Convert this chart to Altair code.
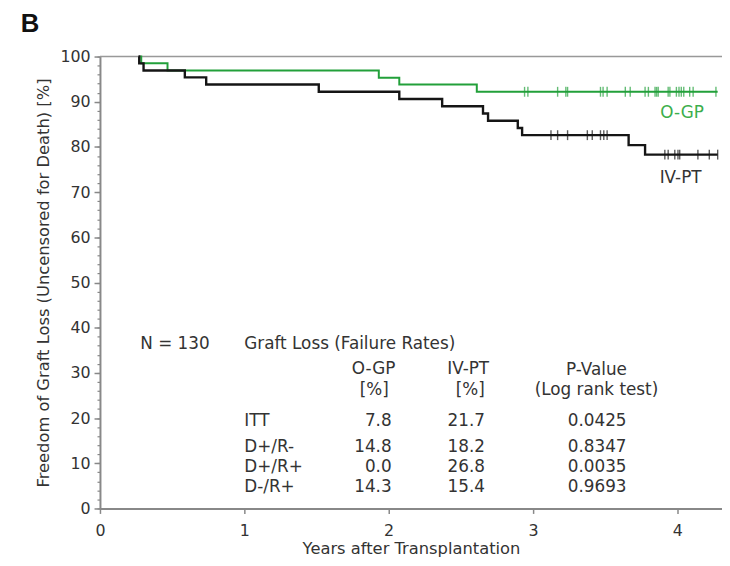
import altair as alt
import pandas as pd

# ---- Kaplan-Meier curves (years after transplantation, % free of graft loss)
ogp_time = [0.279, 0.286, 0.468, 1.932, 2.074, 2.611, 4.28]
ogp_surv = [100.0, 98.5, 96.9, 95.3, 93.8, 92.2, 92.2]
ivpt_time = [0.267, 0.272, 0.302, 0.588, 0.736, 1.516, 2.074, 2.371, 2.654,
             2.689, 2.895, 2.925, 3.663, 3.777, 4.28]
ivpt_surv = [100.0, 98.5, 96.9, 95.4, 93.8, 92.2, 90.6, 89.0, 87.4,
             85.8, 84.2, 82.6, 80.4, 78.3, 78.3]

# ---- censoring marks (years)
ogp_cens = [2.942, 2.965, 3.171, 3.228, 3.240, 3.468, 3.486, 3.514, 3.640,
            3.674, 3.777, 3.800, 3.846, 3.857, 3.868, 3.937, 3.949, 3.994,
            4.012, 4.028, 4.045, 4.086, 4.11, 4.268]
ivpt_cens = [3.125, 3.171, 3.240, 3.377, 3.411, 3.468, 3.491, 3.514,
             3.914, 3.937, 3.983, 4.005, 4.017, 4.143, 4.222, 4.280]

# ---- table
subgroups = ["ITT", "D+/R-", "D+/R+", "D-/R+"]
ogp_rate = ["7.8", "14.8", "0.0", "14.3"]
ivpt_rate = ["21.7", "18.2", "26.8", "15.4"]
p_values = ["0.0425", "0.8347", "0.0035", "0.9693"]

# axis ticks
y_major = list(range(0, 101, 10))
y_minor = list(range(0, 101, 2))
x_ticks = [0, 1, 2, 3, 4]

# layout constants (data units) for the annotation table
row_y = [19.3, 13.6, 9.2, 4.8]
GREEN = "#22a03a"
GREEN_TXT = "#3bae4c"
BLACK = "#151515"
TXT = "#333333"
FONT = "DejaVu Sans"


def level_at(times, survs, t):
    val = survs[0]
    for ti, si in zip(times, survs):
        if ti <= t:
            val = si
    return val


curves = pd.concat([
    pd.DataFrame({"t": ogp_time, "s": ogp_surv, "g": "O-GP"}),
    pd.DataFrame({"t": ivpt_time, "s": ivpt_surv, "g": "IV-PT"}),
])
cens = pd.concat([
    pd.DataFrame({"t": ogp_cens, "s": [level_at(ogp_time, ogp_surv, t) for t in ogp_cens], "g": "O-GP"}),
    pd.DataFrame({"t": ivpt_cens, "s": [level_at(ivpt_time, ivpt_surv, t) for t in ivpt_cens], "g": "IV-PT"}),
])

xscale = alt.Scale(domain=[0, 4.31], nice=False, zero=False)
yscale = alt.Scale(domain=[0, 100], nice=False)
cscale = alt.Scale(domain=["O-GP", "IV-PT"], range=[GREEN, BLACK])

xaxis = alt.Axis(values=x_ticks, format="d", tickSize=5, labelPadding=9, labelFlush=False,
                 labelFontSize=16, title="Years after Transplantation", titleFontSize=16.5,
                 titlePadding=3)
yaxis = alt.Axis(orient="left", values=y_major, format="d", tickSize=6,
                 labelPadding=4, labelOverlap=False, labelFlush=False, labelFontSize=16,
                 title="Freedom of Graft Loss (Uncensored for Death) [%]",
                 titleFontSize=16.5, titlePadding=9)
yaxis_minor = alt.Axis(orient="left", values=y_minor, labels=False, tickSize=3,
                       domain=False, title=None, tickWidth=1.2)


def X(field):
    return alt.X(field, scale=xscale, axis=xaxis)


frame = alt.Chart(pd.DataFrame({"v": [100]})).mark_rule(color="#999", strokeWidth=1.5).encode(
    y=alt.Y("v:Q", scale=yscale, axis=yaxis_minor)
)

lines_g = alt.Chart(curves[curves.g == "O-GP"]).mark_line(
    interpolate="step-after", strokeWidth=2, color=GREEN).encode(
    x=X("t:Q"), y=alt.Y("s:Q", scale=yscale, axis=yaxis))
lines_b = alt.Chart(curves[curves.g == "IV-PT"]).mark_line(
    interpolate="step-after", strokeWidth=2.4, color=BLACK).encode(
    x=X("t:Q"), y=alt.Y("s:Q", scale=yscale, axis=None))

ticks = alt.Chart(cens).mark_tick(orient="vertical", size=10, thickness=1.4).encode(
    x=X("t:Q"), y=alt.Y("s:Q", scale=yscale, axis=None),
    color=alt.Color("g:N", scale=cscale, legend=None)
)


def text_layer(df, align, color=TXT, size=17):
    return alt.Chart(df).mark_text(align=align, baseline="middle", font=FONT,
                                   fontSize=size, color=color).encode(
        x=X("x:Q"), y=alt.Y("y:Q", scale=yscale, axis=None),
        text="label:N")


left_txt = pd.DataFrame({
    "x": [0.279, 1.0] + [1.0] * 4,
    "y": [36.3, 36.3] + row_y,
    "label": ["N = 130", "Graft Loss (Failure Rates)"] + subgroups,
})
center_txt = pd.DataFrame({
    "x": [1.896, 1.90, 2.551, 2.565, 3.44, 3.44] + [3.445] * 4,
    "y": [30.9, 26.1, 30.9, 26.1, 30.7, 26.3] + row_y,
    "label": ["O-GP", "[%]", "IV-PT", "[%]", "P-Value", "(Log rank test)"] + p_values,
})
right_txt = pd.DataFrame({
    "x": [2.021] * 4 + [2.668] * 4,
    "y": row_y + row_y,
    "label": ogp_rate + ivpt_rate,
})
lbl_g = pd.DataFrame({"x": [4.033], "y": [87.4], "label": ["O-GP"]})
lbl_b = pd.DataFrame({"x": [4.023], "y": [73.2], "label": ["IV-PT"]})

panel = alt.Chart(pd.DataFrame({"label": ["B"]})).mark_text(
    align="left", baseline="middle", font="Liberation Sans", fontSize=26,
    fontWeight="bold", color="#111").encode(
    x=alt.value(-80), y=alt.value(-33), text="label:N")

chart = alt.layer(
    frame, lines_g, lines_b, ticks,
    text_layer(left_txt, "left"),
    text_layer(center_txt, "center"),
    text_layer(right_txt, "right"),
    text_layer(lbl_g, "center", GREEN_TXT, 17),
    text_layer(lbl_b, "center", "#333", 17),
    panel,
).resolve_axis(y="independent").properties(
    width=629, height=457,
    padding={"left": 93, "top": 46, "right": 0, "bottom": 47},
    autosize="none",
).configure_view(stroke=None).configure_axis(
    labelFont=FONT, titleFont=FONT, titleFontWeight="normal",
    labelColor=TXT, titleColor=TXT, domainColor="#888", tickColor="#888",
    domainWidth=2, tickWidth=1.5, grid=False,
)

chart.save("out.html", embed_options={"renderer": "svg", "actions": False})
